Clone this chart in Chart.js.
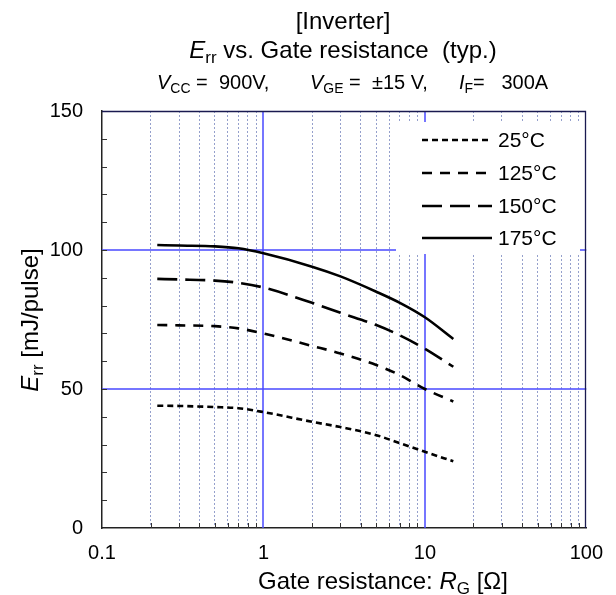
<!DOCTYPE html>
<html>
<head>
<meta charset="utf-8">
<script src="https://cdn.jsdelivr.net/npm/chart.js@4/dist/chart.umd.min.js"></script>
<style>
html,body{margin:0;padding:0;background:#fff;}
#wrap{position:relative;width:616px;height:595px;}
</style>
</head>
<body>
<div id="wrap"><canvas id="c" width="616" height="595"></canvas></div>
<script>
// ---- data ----
const rg = [0.22, 0.3, 0.5, 0.7, 1, 2, 3, 5, 7, 10, 15];
const err25  = [44.0, 43.9, 43.5, 43.1, 41.7, 38.2, 36.3, 33.4, 30.5, 27.4, 24.0];
const err125 = [73.0, 72.9, 72.6, 71.8, 70.0, 65.5, 62.8, 58.6, 55.0, 50.0, 45.5];
const err150 = [89.6, 89.4, 89.0, 88.2, 86.5, 81.0, 77.4, 73.0, 69.3, 64.5, 58.0];
const err175 = [101.8, 101.6, 101.3, 100.6, 98.8, 94.0, 90.5, 85.0, 81.0, 75.8, 68.0];
const seriesLabels = ['25°C', '125°C', '150°C', '175°C'];
const xMajorTicks = [0.1, 1, 10, 100];
const xTickLabels = ['0.1', '1', '10', '100'];
const xMinorTicks = [0.2,0.3,0.4,0.5,0.6,0.7,0.8,0.9,2,3,4,5,6,7,8,9,20,30,40,50,60,70,80,90];
const yTicks = [0,10,20,30,40,50,60,70,80,90,100,110,120,130,140,150];
const yTickLabels = {0:'0', 50:'50', 100:'100', 150:'150'};
const yMajorGrid = [50, 100];
const xMajorGrid = [1, 10];

const FONT = '"Liberation Sans", Arial, Helvetica, sans-serif';

function pts(ys){ return rg.map((x,i)=>({x:x, y:ys[i]})); }

function drawRich(ctx, parts, x, y, align, size){
  const fontFor = p => (p.it ? 'italic ' : '') + (p.sub ? Math.round(size*0.7) : size) + 'px ' + FONT;
  let w = 0;
  parts.forEach(p => { ctx.font = fontFor(p); p.w = ctx.measureText(p.t).width; w += p.w; });
  let cx = align === 'center' ? x - w/2 : x;
  ctx.textAlign = 'left';
  ctx.textBaseline = 'alphabetic';
  parts.forEach(p => {
    ctx.font = fontFor(p);
    ctx.fillText(p.t, cx, y + (p.sub ? size*0.22 : 0));
    cx += p.w;
  });
}

const textPlugin = {
  id: 'texts',
  afterDraw(chart){
    const ctx = chart.ctx;
    ctx.save();
    ctx.fillStyle = '#000';
    drawRich(ctx, [{t:'[Inverter]'}], 343, 29, 'center', 24);
    drawRich(ctx, [{t:'E', it:true},{t:'rr', sub:true},{t:' vs. Gate resistance  (typ.)'}], 343, 58, 'center', 24);
    drawRich(ctx, [{t:'V', it:true},{t:'CC', sub:true},{t:' =  900V,'}], 157, 89, 'left', 20);
    drawRich(ctx, [{t:'V', it:true},{t:'GE', sub:true},{t:' =  ±15 V,'}], 310, 89, 'left', 20);
    drawRich(ctx, [{t:'I', it:true},{t:'F', sub:true},{t:'=   300A'}], 459, 89, 'left', 20);
    drawRich(ctx, [{t:'Gate resistance: '},{t:'R', it:true},{t:'G', sub:true},{t:' [Ω]'}], 383, 589, 'center', 24);
    ctx.translate(38, 320);
    ctx.rotate(-Math.PI/2);
    drawRich(ctx, [{t:'E', it:true},{t:'rr', sub:true},{t:' [mJ/pulse]'}], 0, 0, 'center', 24);
    ctx.restore();
  }
};

const gridPlugin = {
  id: 'majorGrid',
  beforeDatasetsDraw(chart){
    const ctx = chart.ctx, a = chart.chartArea;
    const ys = chart.scales.y, xs = chart.scales.x;
    ctx.save();
    ctx.lineWidth = 1.5;
    ctx.strokeStyle = '#4a4aff';
    ctx.beginPath();
    yMajorGrid.forEach(v => {
      const py = Math.round(ys.getPixelForValue(v));
      ctx.moveTo(a.left, py); ctx.lineTo(a.right, py);
    });
    xMajorGrid.forEach(v => {
      const px = Math.round(xs.getPixelForValue(v));
      ctx.moveTo(px, a.top); ctx.lineTo(px, a.bottom);
    });
    ctx.stroke();
    // top and right frame
    ctx.strokeStyle = '#1a1a50';
    ctx.lineWidth = 1.3;
    ctx.beginPath();
    const top = Math.round(ys.getPixelForValue(150)) + 0.5;
    const right = Math.round(xs.getPixelForValue(100)) - 0.5;
    ctx.moveTo(a.left, top); ctx.lineTo(right, top); ctx.lineTo(right, a.bottom);
    ctx.stroke();
    // inner ticks
    ctx.strokeStyle = '#333';
    ctx.lineWidth = 1;
    ctx.beginPath();
    yTicks.forEach(v => {
      if (v === 0 || v === 150) return;
      const py = Math.round(ys.getPixelForValue(v)) + 0.5;
      ctx.moveTo(a.left, py); ctx.lineTo(a.left + 5, py);
    });
    xMinorTicks.forEach(v => {
      const px = Math.round(xs.getPixelForValue(v)) + 0.5;
      ctx.moveTo(px, a.bottom); ctx.lineTo(px, a.bottom - 5);
    });
    ctx.stroke();
    ctx.restore();
  }
};

const legendPlugin = {
  id: 'boxLegend',
  afterDatasetsDraw(chart){
    const ctx = chart.ctx;
    const rows = [140, 173, 206, 238];
    ctx.save();
    ctx.fillStyle = '#fff';
    ctx.fillRect(396, 122, 184, 132);
    chart.data.datasets.forEach((ds, i) => {
      const y = rows[i];
      ctx.strokeStyle = ds.borderColor;
      ctx.lineWidth = ds.borderWidth;
      ctx.setLineDash(ds.borderDash || []);
      ctx.beginPath();
      ctx.moveTo(422, y); ctx.lineTo(492, y);
      ctx.stroke();
      ctx.setLineDash([]);
      ctx.fillStyle = '#000';
      ctx.font = '21px ' + FONT;
      ctx.textAlign = 'left';
      ctx.textBaseline = 'middle';
      ctx.fillText(ds.label, 498, y + 1);
    });
    ctx.restore();
  }
};

const mk = (label, ys, dash) => ({
  label: label, data: pts(ys), borderColor: '#000', borderWidth: 2.6,
  borderDash: dash, pointRadius: 0, fill: false, cubicInterpolationMode: 'monotone',
  xAxisID: 'x', yAxisID: 'y'
});

new Chart(document.getElementById('c'), {
  type: 'line',
  data: {
    datasets: [
      mk(seriesLabels[0], err25, [6,4]),
      mk(seriesLabels[1], err125, [10,8]),
      mk(seriesLabels[2], err150, [20,8]),
      mk(seriesLabels[3], err175, [])
    ]
  },
  options: {
    responsive: false,
    animation: false,
    devicePixelRatio: 1,
    layout: { padding: { left: 0, right: 25, top: 111, bottom: 0 } },
    plugins: { legend: { display: false }, tooltip: { enabled: false }, title: { display: false } },
    scales: {
      xMinor: {
        type: 'logarithmic', min: 0.1, max: 100, position: 'bottom',
        afterBuildTicks: s => { s.ticks = xMinorTicks.map(v => ({ value: v })); },
        afterFit: s => { s.height = 0; },
        ticks: { display: false },
        grid: { color: '#95a0cc', lineWidth: 1, drawTicks: false },
        border: { display: false, dash: [2, 2] }
      },
      x: {
        type: 'logarithmic', min: 0.1, max: 100, position: 'bottom',
        afterBuildTicks: s => { s.ticks = xMajorTicks.map(v => ({ value: v })); },
        afterFit: s => { s.height = 67; },
        ticks: {
          callback: (v, i) => xTickLabels[i],
          font: { family: FONT, size: 20 }, color: '#000', padding: 13,
          maxRotation: 0, autoSkip: false
        },
        grid: { drawTicks: false, drawOnChartArea: false },
        border: { color: '#222', width: 1.5 }
      },
      y: {
        type: 'linear', min: 0, max: 150,
        afterBuildTicks: s => { s.ticks = yTicks.map(v => ({ value: v })); },
        afterFit: s => { s.width = 102; },
        ticks: {
          callback: v => (yTickLabels[v] !== undefined ? yTickLabels[v] : ''),
          font: { family: FONT, size: 20 }, color: '#000', padding: 19, autoSkip: false
        },
        grid: { drawTicks: false, drawOnChartArea: false },
        border: { color: '#222', width: 1.5 }
      }
    }
  },
  plugins: [textPlugin, gridPlugin, legendPlugin]
});
</script>
</body>
</html>
